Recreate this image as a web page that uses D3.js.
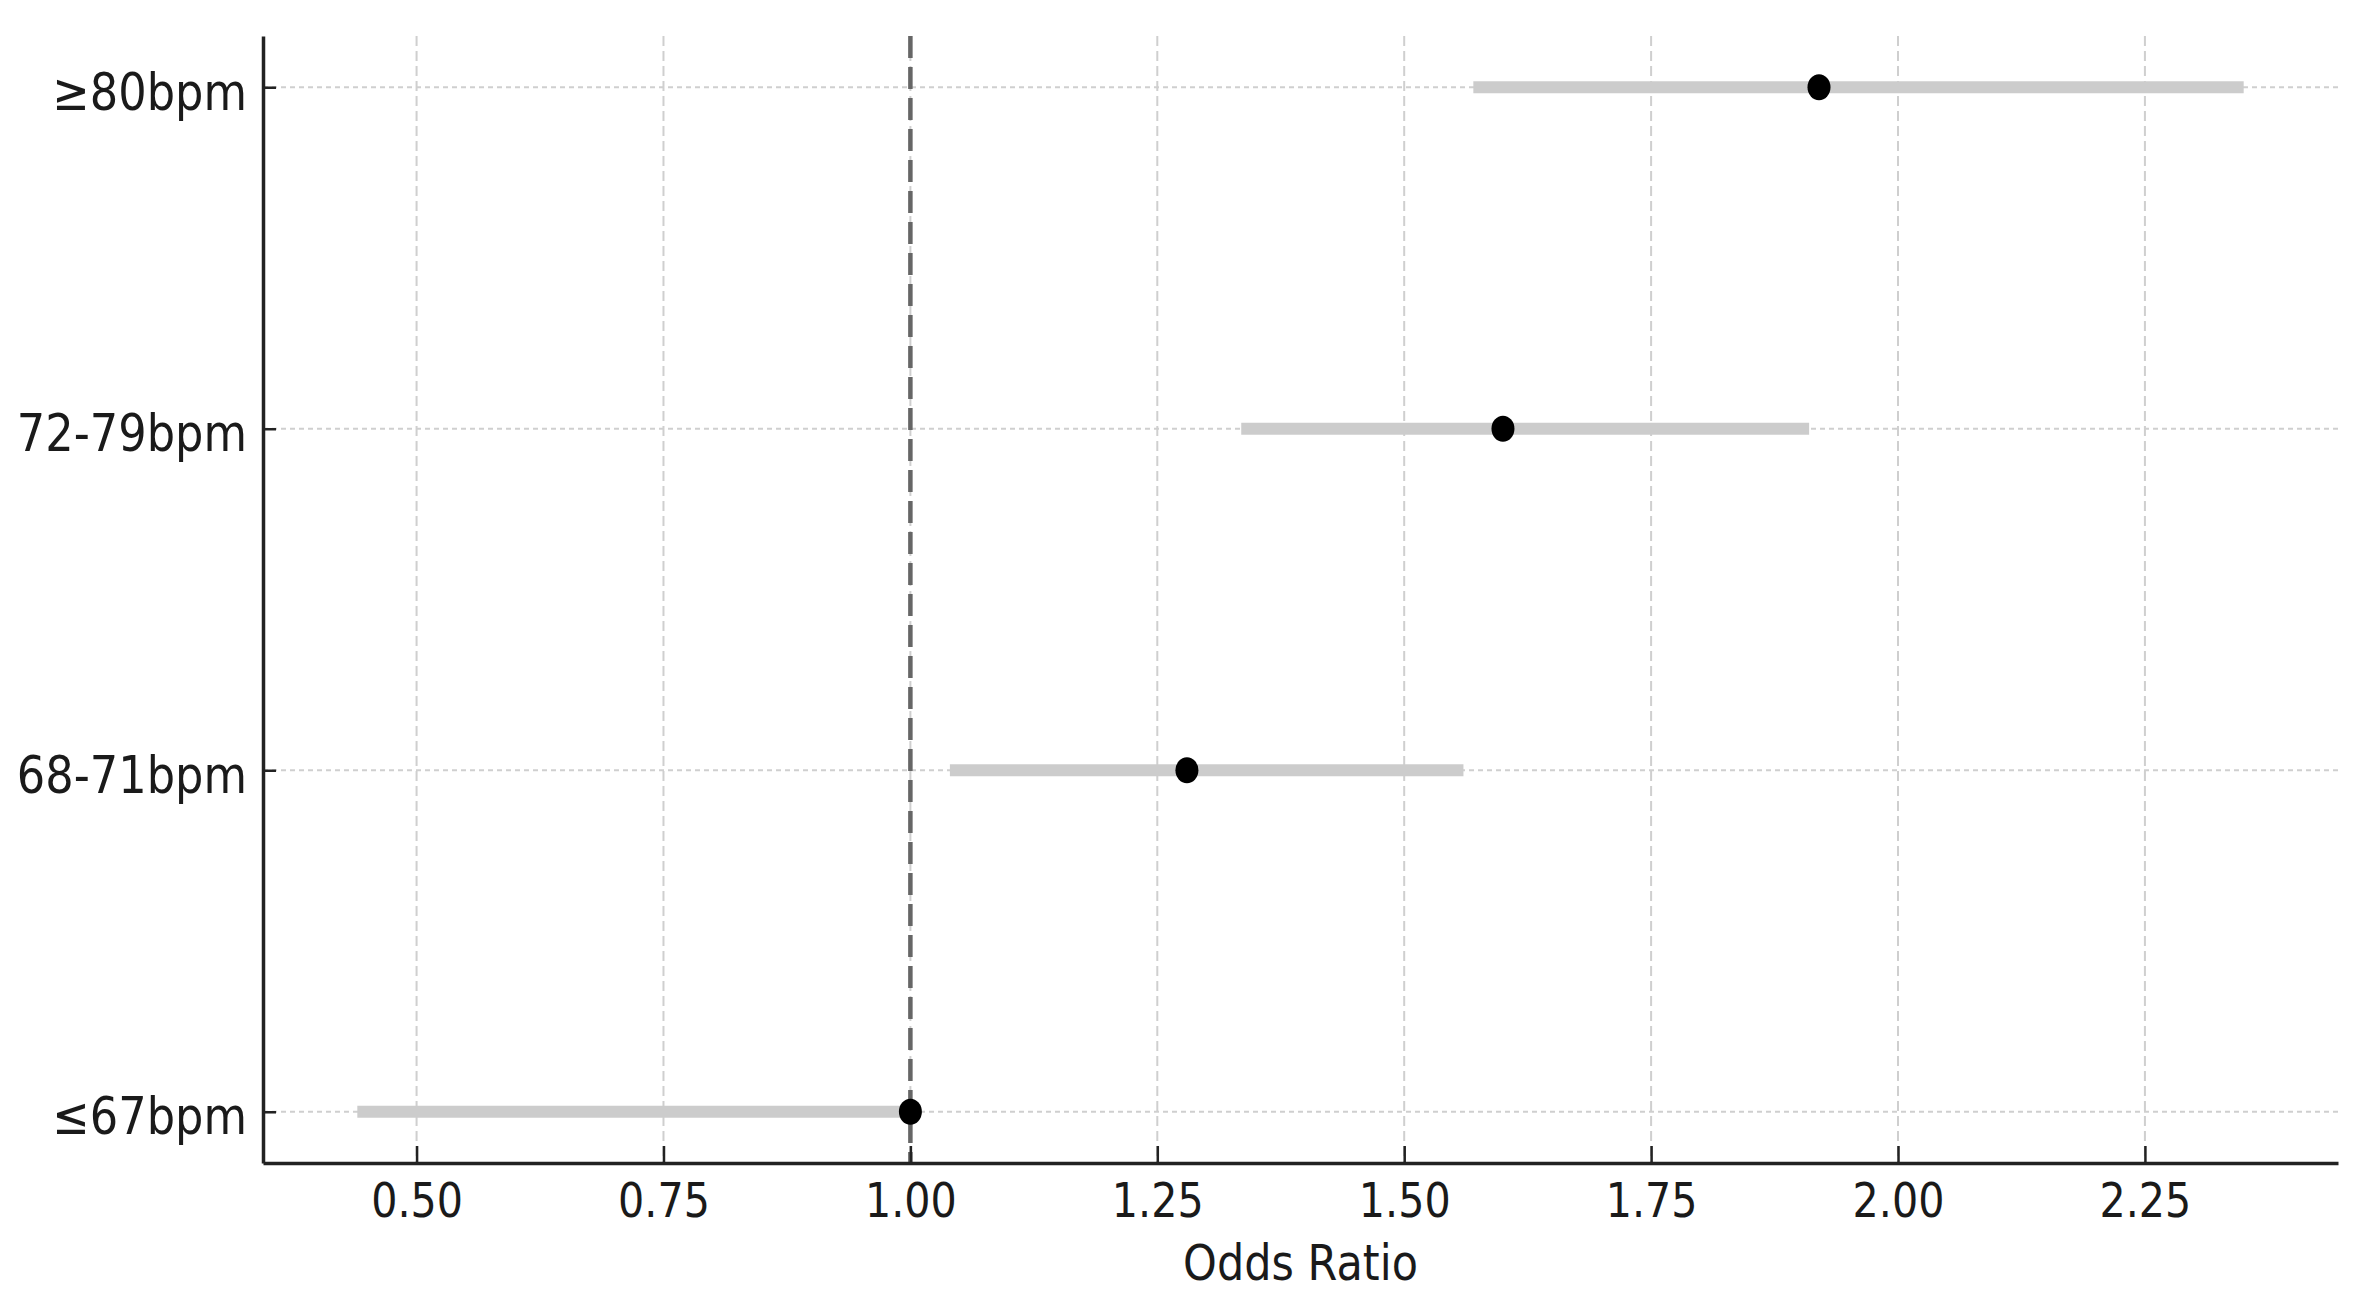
<!DOCTYPE html>
<html lang="en">
<head>
<meta charset="UTF-8">
<title>Odds Ratio forest plot</title>
<script src="https://d3js.org/d3.v7.min.js"></script>
<style>
  html, body { margin: 0; padding: 0; background: #fff; }
  svg { display: block; font-family: "DejaVu Sans", sans-serif; }
</style>
</head>
<body>
<div id="chart"></div>
<script>
// data
const categories = ["≤67bpm", "68-71bpm", "72-79bpm", "≥80bpm"];
const oddsRatio  = [1.00, 1.28, 1.60, 1.92];
const ciLow      = [0.44, 1.04, 1.335, 1.57];
const ciHigh     = [1.00, 1.56, 1.91, 2.35];
const xTicks     = [0.50, 0.75, 1.00, 1.25, 1.50, 1.75, 2.00, 2.25];
const refValue   = 1.0;

const W = 2374, H = 1310;
const margin = { top: 36, right: 36, bottom: 147, left: 263 };
const width = W - margin.left - margin.right;
const height = H - margin.top - margin.bottom;
const squeeze = 0.86; // the source picture is a little narrow

const svg = d3.select("#chart").append("svg")
    .attr("width", W)
    .attr("height", H);

const g = svg.append("g")
    .attr("transform", `translate(${margin.left},${margin.top})`);

// matplotlib-like 5% margins around the data
const lo = d3.min(ciLow), hi = d3.max(ciHigh);
const pad = (hi - lo) * 0.05;
const x = d3.scaleLinear().domain([lo - pad, hi + pad]).range([0, width]);
const y = d3.scalePoint().domain(categories).range([height, 0]).padding(0.15);

// grid
g.append("g").selectAll("line").data(xTicks).join("line")
    .attr("x1", d => x(d)).attr("x2", d => x(d))
    .attr("y1", 0).attr("y2", height)
    .attr("stroke", "#cfcfcf").attr("stroke-width", 2)
    .attr("stroke-dasharray", "10 5");

g.append("g").selectAll("line").data(categories).join("line")
    .attr("x1", 0).attr("x2", width)
    .attr("y1", d => y(d)).attr("y2", d => y(d))
    .attr("stroke", "#cfcfcf").attr("stroke-width", 2)
    .attr("stroke-dasharray", "5 4");

// reference line at OR = 1
g.append("line")
    .attr("x1", x(refValue)).attr("x2", x(refValue))
    .attr("y1", 0).attr("y2", height)
    .attr("stroke", "#666").attr("stroke-width", 4.5)
    .attr("stroke-dasharray", "22 9");

// confidence intervals
g.append("g").selectAll("line").data(categories).join("line")
    .attr("x1", (d, i) => x(ciLow[i]))
    .attr("x2", (d, i) => x(ciHigh[i]))
    .attr("y1", d => y(d)).attr("y2", d => y(d))
    .attr("stroke", "#cccccc").attr("stroke-width", 12);

// point estimates
g.append("g").selectAll("ellipse").data(categories).join("ellipse")
    .attr("cx", (d, i) => x(oddsRatio[i]))
    .attr("cy", d => y(d))
    .attr("rx", 11.5).attr("ry", 13)
    .attr("fill", "#000");

// axes
const xAxis = g.append("g")
    .attr("transform", `translate(0,${height})`)
    .call(d3.axisBottom(x).tickValues(xTicks).tickFormat(d3.format(".2f")).tickSize(-17).tickSizeOuter(0));

const yAxis = g.append("g")
    .call(d3.axisLeft(y).tickSize(-13).tickSizeOuter(0));

[xAxis, yAxis].forEach(a => {
    a.select(".domain").attr("stroke", "#222").attr("stroke-width", 3.5);
    a.selectAll(".tick line").attr("stroke", "#222").attr("stroke-width", 2.5);
    a.selectAll(".tick text").attr("fill", "#1a1a1a").attr("font-family", "DejaVu Sans, sans-serif");
});

xAxis.selectAll(".tick text")
    .attr("font-size", 48)
    .attr("y", 54).attr("dy", 0)
    .attr("transform", `scale(${squeeze},1)`);

yAxis.selectAll(".tick text")
    .attr("font-size", 52)
    .attr("x", -16 / squeeze)
    .attr("dy", "0.42em")
    .attr("transform", `scale(${squeeze},1)`);

// axis title
g.append("g")
    .attr("transform", `translate(${width / 2},${height + 117})`)
  .append("text")
    .attr("text-anchor", "middle")
    .attr("font-size", 50)
    .attr("fill", "#1a1a1a")
    .attr("transform", `scale(${squeeze},1)`)
    .text("Odds Ratio");
</script>
</body>
</html>
